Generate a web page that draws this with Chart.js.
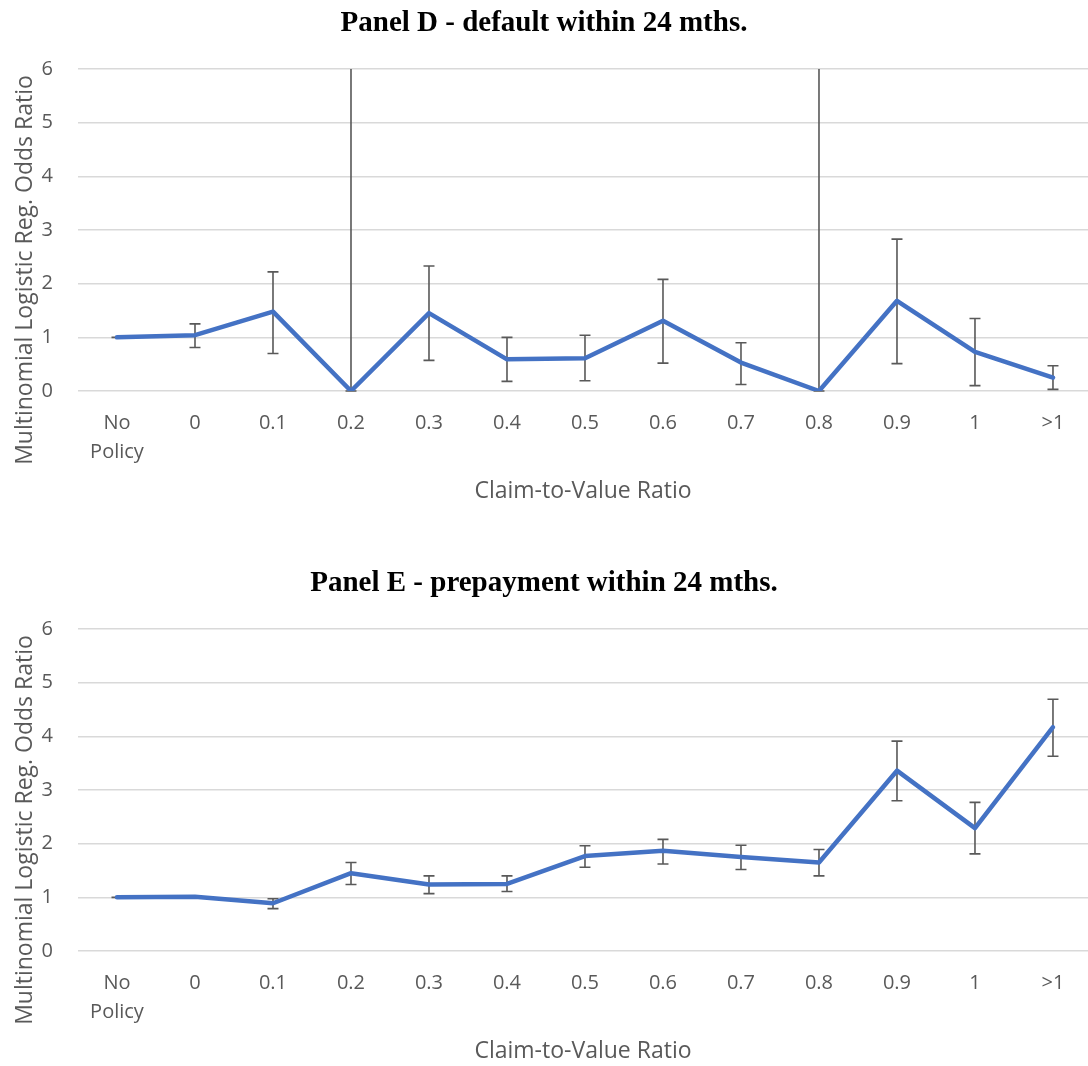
<!DOCTYPE html>
<html>
<head>
<meta charset="utf-8">
<script src="https://cdn.jsdelivr.net/npm/chart.js@4/dist/chart.umd.min.js"></script>
<style>
  html, body { margin: 0; padding: 0; background: #ffffff; overflow: hidden; }
  .panel { position: absolute; left: 0; width: 1088px; height: 506px; }
  #panelD { top: 0; }
  #panelE { top: 560px; }
  canvas { display: block; }
</style>
</head>
<body>
<div class="panel" id="panelD"><canvas id="chartD" width="1088" height="506"></canvas></div>
<div class="panel" id="panelE"><canvas id="chartE" width="1088" height="506"></canvas></div>
<script>
// Claim-to-value buckets on the x axis
const categories = ['No Policy', '0', '0.1', '0.2', '0.3', '0.4', '0.5', '0.6', '0.7', '0.8', '0.9', '1', '>1'];
const tickLabels = [['No', 'Policy'], '0', '0.1', '0.2', '0.3', '0.4', '0.5', '0.6', '0.7', '0.8', '0.9', '1', '>1'];
const yTicks = [0, 1, 2, 3, 4, 5, 6];

// Panel D: default within 24 months (odds ratio with confidence bounds)
const oddsD = [1.00, 1.04, 1.48, 0.00, 1.45, 0.59, 0.61, 1.31, 0.53, 0.00, 1.68, 0.73, 0.25];
const lowD  = [1.00, 0.81, 0.70, 0.00, 0.57, 0.18, 0.19, 0.52, 0.12, 0.00, 0.51, 0.10, 0.03];
const highD = [1.00, 1.25, 2.22, 10.0, 2.33, 1.00, 1.04, 2.08, 0.90, 10.0, 2.83, 1.35, 0.47];

// Panel E: prepayment within 24 months
const oddsE = [1.00, 1.01, 0.89, 1.45, 1.24, 1.25, 1.77, 1.87, 1.75, 1.65, 3.36, 2.29, 4.17];
const lowE  = [1.00, 1.01, 0.79, 1.24, 1.07, 1.11, 1.56, 1.62, 1.52, 1.40, 2.80, 1.81, 3.63];
const highE = [1.00, 1.01, 0.975, 1.65, 1.40, 1.40, 1.96, 2.08, 1.97, 1.89, 3.91, 2.77, 4.69];

const textGrey = '#595959';
const gridGrey = '#d9d9d9';
const lineBlue = '#4472C4';
const sansFont = "'Open Sans', 'DejaVu Sans', sans-serif";

// Error bars drawn beneath the series line
const errorBarPlugin = {
  id: 'errorBars',
  beforeDatasetsDraw(chart, args, opts) {
    const { ctx, chartArea, scales } = chart;
    const lows = opts.lows, highs = opts.highs;
    ctx.save();
    ctx.beginPath();
    ctx.rect(chartArea.left, chartArea.top, chartArea.right - chartArea.left, chartArea.bottom - chartArea.top + 2);
    ctx.clip();
    ctx.strokeStyle = textGrey;
    ctx.lineWidth = 1.6;
    const half = 5.5;
    lows.forEach((lo, i) => {
      const x = scales.x.getPixelForValue(i);
      const yLo = scales.y.getPixelForValue(lo);
      const yHi = scales.y.getPixelForValue(highs[i]);
      ctx.beginPath();
      ctx.moveTo(x, yLo);
      ctx.lineTo(x, yHi);
      ctx.moveTo(x - half, yLo);
      ctx.lineTo(x + half, yLo);
      ctx.moveTo(x - half, yHi);
      ctx.lineTo(x + half, yHi);
      ctx.stroke();
    });
    ctx.restore();
  }
};

// Vertical y-axis title, centred on the plot plus its category labels
const yTitlePlugin = {
  id: 'yTitle',
  afterDraw(chart, args, opts) {
    const { ctx } = chart;
    ctx.save();
    ctx.translate(opts.x, opts.y);
    ctx.rotate(-Math.PI / 2);
    ctx.font = opts.font;
    ctx.fillStyle = textGrey;
    ctx.textAlign = 'center';
    ctx.textBaseline = 'middle';
    ctx.fillText(opts.text, 0, 0);
    ctx.restore();
  }
};

function makePanel(canvasId, titleText, odds, lows, highs) {
  const points = odds.map((v, i) => ({ x: i, y: v }));
  return new Chart(document.getElementById(canvasId), {
    type: 'line',
    data: {
      datasets: [{
        data: points,
        borderColor: lineBlue,
        borderWidth: 4.5,
        borderCapStyle: 'round',
        borderJoinStyle: 'round',
        pointRadius: 0,
        pointHoverRadius: 0,
        tension: 0,
        fill: false
      }]
    },
    options: {
      responsive: false,
      animation: false,
      devicePixelRatio: 1,
      layout: { padding: { left: 0, right: 0, top: 0, bottom: 0 } },
      plugins: {
        legend: { display: false },
        tooltip: { enabled: false },
        title: {
          display: true,
          text: titleText,
          color: '#000000',
          font: { family: "'Liberation Serif', 'Times New Roman', serif", size: 29, weight: 'bold', lineHeight: 1.2 },
          padding: { top: 6.4, bottom: 27.8 }
        },
        errorBars: { lows: lows, highs: highs },
        yTitle: { text: 'Multinomial Logistic Reg. Odds Ratio', x: 25, y: 270, font: '23px ' + sansFont }
      },
      scales: {
        x: {
          type: 'linear',
          min: -0.5,
          max: 12.449,
          grid: { display: false, drawTicks: false },
          border: { display: false },
          afterBuildTicks(scale) { scale.ticks = categories.map((c, i) => ({ value: i })); },
          afterFit(scale) { scale.height = 115; },
          ticks: {
            autoSkip: false,
            maxRotation: 0,
            minRotation: 0,
            padding: 17.5,
            color: textGrey,
            font: { family: sansFont, size: 20, lineHeight: 1.45 },
            callback: (value) => tickLabels[value]
          },
          title: {
            display: true,
            text: 'Claim-to-Value Ratio',
            color: textGrey,
            font: { family: sansFont, size: 23, lineHeight: 1.2 },
            padding: { top: 0, bottom: 1.2 }
          }
        },
        y: {
          min: 0,
          max: 6,
          afterBuildTicks(scale) { scale.ticks = yTicks.map(v => ({ value: v })); },
          afterFit(scale) { scale.width = 78; },
          grid: { color: gridGrey, lineWidth: 1.5, drawTicks: false },
          border: { display: false },
          ticks: {
            padding: 25,
            color: textGrey,
            font: { family: sansFont, size: 20 }
          }
        }
      }
    },
    plugins: [errorBarPlugin, yTitlePlugin]
  });
}

makePanel('chartD', 'Panel D - default within 24 mths.', oddsD, lowD, highD);
makePanel('chartE', 'Panel E - prepayment within 24 mths.', oddsE, lowE, highE);
</script>
</body>
</html>
